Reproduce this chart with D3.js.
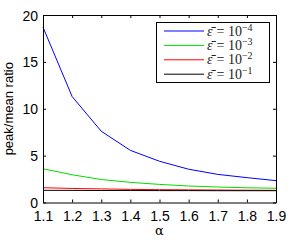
<!DOCTYPE html>
<html><head><meta charset="utf-8">
<script src="https://cdn.jsdelivr.net/npm/d3@7"></script>
<style>body{margin:0;background:#fff}svg{display:block}</style>
</head><body>
<script>
const alphas = [1.1,1.2,1.3,1.4,1.5,1.6,1.7,1.8,1.9];
const eps4 = [18.7,11.3,7.6,5.56,4.4,3.55,3.0,2.65,2.33];
const eps3 = [3.6,2.96,2.45,2.15,1.93,1.76,1.65,1.57,1.52];
const eps2 = [1.58,1.5,1.45,1.4,1.37,1.35,1.33,1.31,1.3];
const eps1 = [1.3,1.29,1.28,1.28,1.27,1.27,1.26,1.26,1.26];
const seriesNames = ["-4","-3","-2","-1"];
const seriesColors = ["#0000ff","#00dd00","#ff0000","#000000"];
const xTicks = [1.1,1.2,1.3,1.4,1.5,1.6,1.7,1.8,1.9];
const yTicks = [0,5,10,15,20];

const W=291,H=240;
const m={l:43,r:15,t:15,b:37.5};
const svg=d3.select("body").append("svg").attr("width",W).attr("height",H);
const x=d3.scaleLinear().domain([1.1,1.9]).range([m.l,W-m.r]);
const y=d3.scaleLinear().domain([0,20]).range([H-m.b,m.t]);
const font="'Liberation Sans', Arial, sans-serif";

const series=[eps4,eps3,eps2,eps1];
const line=d3.line().x((d,i)=>x(alphas[i])).y(d=>y(d));
series.forEach((s,k)=>{
  svg.append("path").attr("d",line(s)).attr("fill","none")
    .attr("stroke",seriesColors[k]).attr("stroke-width",1);
});

// axes
const tl=3;
const gB=svg.append("g").attr("transform",`translate(0,${y(0)})`)
  .call(d3.axisBottom(x).tickValues(xTicks).tickSizeInner(-tl).tickSizeOuter(0).tickPadding(9).tickFormat(d3.format(".1f")));
const gT=svg.append("g").attr("transform",`translate(0,${y(20)})`)
  .call(d3.axisTop(x).tickValues(xTicks).tickSizeInner(-tl).tickSizeOuter(0).tickFormat(""));
const gL=svg.append("g").attr("transform",`translate(${x(1.1)},0)`)
  .call(d3.axisLeft(y).tickValues(yTicks).tickSizeInner(-tl).tickSizeOuter(0).tickPadding(5));
const gR=svg.append("g").attr("transform",`translate(${x(1.9)},0)`)
  .call(d3.axisRight(y).tickValues(yTicks).tickSizeInner(-tl).tickSizeOuter(0).tickFormat(""));
[gB,gT,gL,gR].forEach(g=>{
  g.selectAll("path.domain").attr("stroke","#000").attr("stroke-width",1);
  g.selectAll("line").attr("stroke","#000");
  g.selectAll("text").attr("font-family",font).attr("font-size",14).attr("fill","#000");
});
gL.selectAll("text").attr("dy","0.36em");

svg.append("text").attr("x",(x(1.1)+x(1.9))/2).attr("y",235)
  .attr("text-anchor","middle").attr("font-family","'DejaVu Serif', serif")
  .attr("font-size",13).text("α");
svg.append("text").attr("transform",`translate(13,${(y(0)+y(20))/2}) rotate(-90)`)
  .attr("text-anchor","middle").attr("font-family",font).attr("font-size",13).text("peak/mean ratio");

// legend
const lg=svg.append("g");
lg.append("rect").attr("x",156.5).attr("y",22.5).attr("width",113).attr("height",60)
  .attr("fill","#fff").attr("stroke","#000").attr("stroke-width",1);
seriesNames.forEach((n,k)=>{
  const yy=31+k*14.4;
  lg.append("line").attr("x1",164).attr("x2",204).attr("y1",yy).attr("y2",yy)
    .attr("stroke",seriesColors[k]).attr("stroke-width",1);
  const t=lg.append("text").attr("x",207).attr("y",yy+4.5)
    .attr("font-family","'Liberation Serif', 'DejaVu Serif', serif").attr("font-size",14).attr("fill","#222");
  t.append("tspan").attr("font-style","italic").text("ε̄");
  t.append("tspan").attr("dx",4).text("=\u00a010");
  t.append("tspan").attr("font-size",10).attr("dy",-5).text("−"+n.slice(1));
});
</script>
</body></html>
